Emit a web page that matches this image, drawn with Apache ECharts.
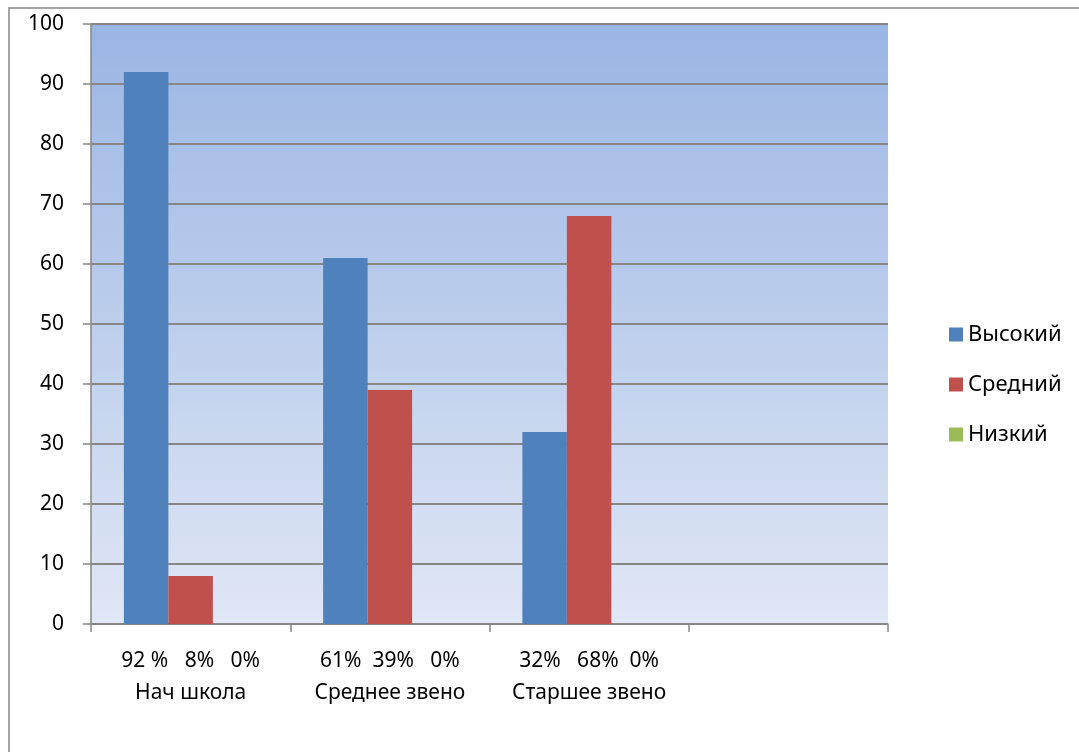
<!DOCTYPE html>
<html><head><meta charset="utf-8">
<script src="https://cdn.jsdelivr.net/npm/echarts@6/dist/echarts.min.js"></script>
<style>html,body{margin:0;padding:0;background:#fff}#c{width:1079px;height:752px}</style>
</head><body><div id="c"></div>
<script>
const categories = ['Нач школа', 'Среднее звено', 'Старшее звено', ''];
const percentLabels = ['92 %   8%   0%', '61%  39%   0%', '32%   68%  0%', ''];
const seriesNames = ['Высокий', 'Средний', 'Низкий'];
const high = [92, 61, 32, null];
const mid = [8, 39, 68, null];
const low = [0, 0, 0, null];
const yTicks = [0, 10, 20, 30, 40, 50, 60, 70, 80, 90, 100];

const colors = ['#4F81BD', '#C0504D', '#9BBB59'];
const FONT = '"Noto Sans", "Open Sans", sans-serif';
const FS = 21;
const chart = echarts.init(document.getElementById('c'));
chart.setOption({
  animation: false,
  textStyle: { fontFamily: FONT },
  color: colors,
  graphic: [{
    type: 'rect', shape: { x: 9, y: 8, width: 1200, height: 900 },
    style: { fill: 'none', stroke: '#868686', lineWidth: 1.5 }, z: -10
  }],
  grid: {
    left: 91, top: 24, width: 797, height: 600,
    show: true, borderWidth: 0,
    backgroundColor: new echarts.graphic.LinearGradient(0, 0, 0, 1, [
      { offset: 0, color: '#9AB5E3' }, { offset: 1, color: '#E0E7F5' }
    ])
  },
  legend: {
    orient: 'vertical', left: 944, top: 315,
    itemWidth: 14, itemHeight: 14, itemGap: 21,
    icon: 'rect',
    textStyle: { fontSize: 22, color: '#000', fontFamily: FONT, lineHeight: 29 },
    data: seriesNames
  },
  xAxis: {
    type: 'category', data: categories,
    axisLine: { lineStyle: { color: '#868686', width: 1.5 } },
    axisTick: { show: true, length: 8, alignWithLabel: false, lineStyle: { color: '#868686', width: 1.5 } },
    axisLabel: {
      interval: 0, margin: 21, color: '#000', fontSize: FS, lineHeight: 32, fontFamily: FONT,
      formatter: function (v, i) { return percentLabels[i] + '\n' + v; }
    }
  },
  yAxis: {
    type: 'value', min: 0, max: 100, interval: 10,
    axisLine: { show: true, lineStyle: { color: '#868686', width: 1.5 } },
    axisTick: { show: true, length: 8, lineStyle: { color: '#868686', width: 1.5 } },
    axisLabel: { color: '#000', fontSize: FS, margin: 27, fontFamily: FONT,
      formatter: function (v) { return yTicks.indexOf(v) >= 0 ? String(v) : ''; } },
    splitLine: { lineStyle: { color: '#878787', width: 1.8 } }
  },
  series: [
    { name: seriesNames[0], type: 'bar', data: high, barGap: '0%', barCategoryGap: '33%' },
    { name: seriesNames[1], type: 'bar', data: mid, barGap: '0%', barCategoryGap: '33%' },
    { name: seriesNames[2], type: 'bar', data: low, barGap: '0%', barCategoryGap: '33%' }
  ]
});
</script></body></html>
